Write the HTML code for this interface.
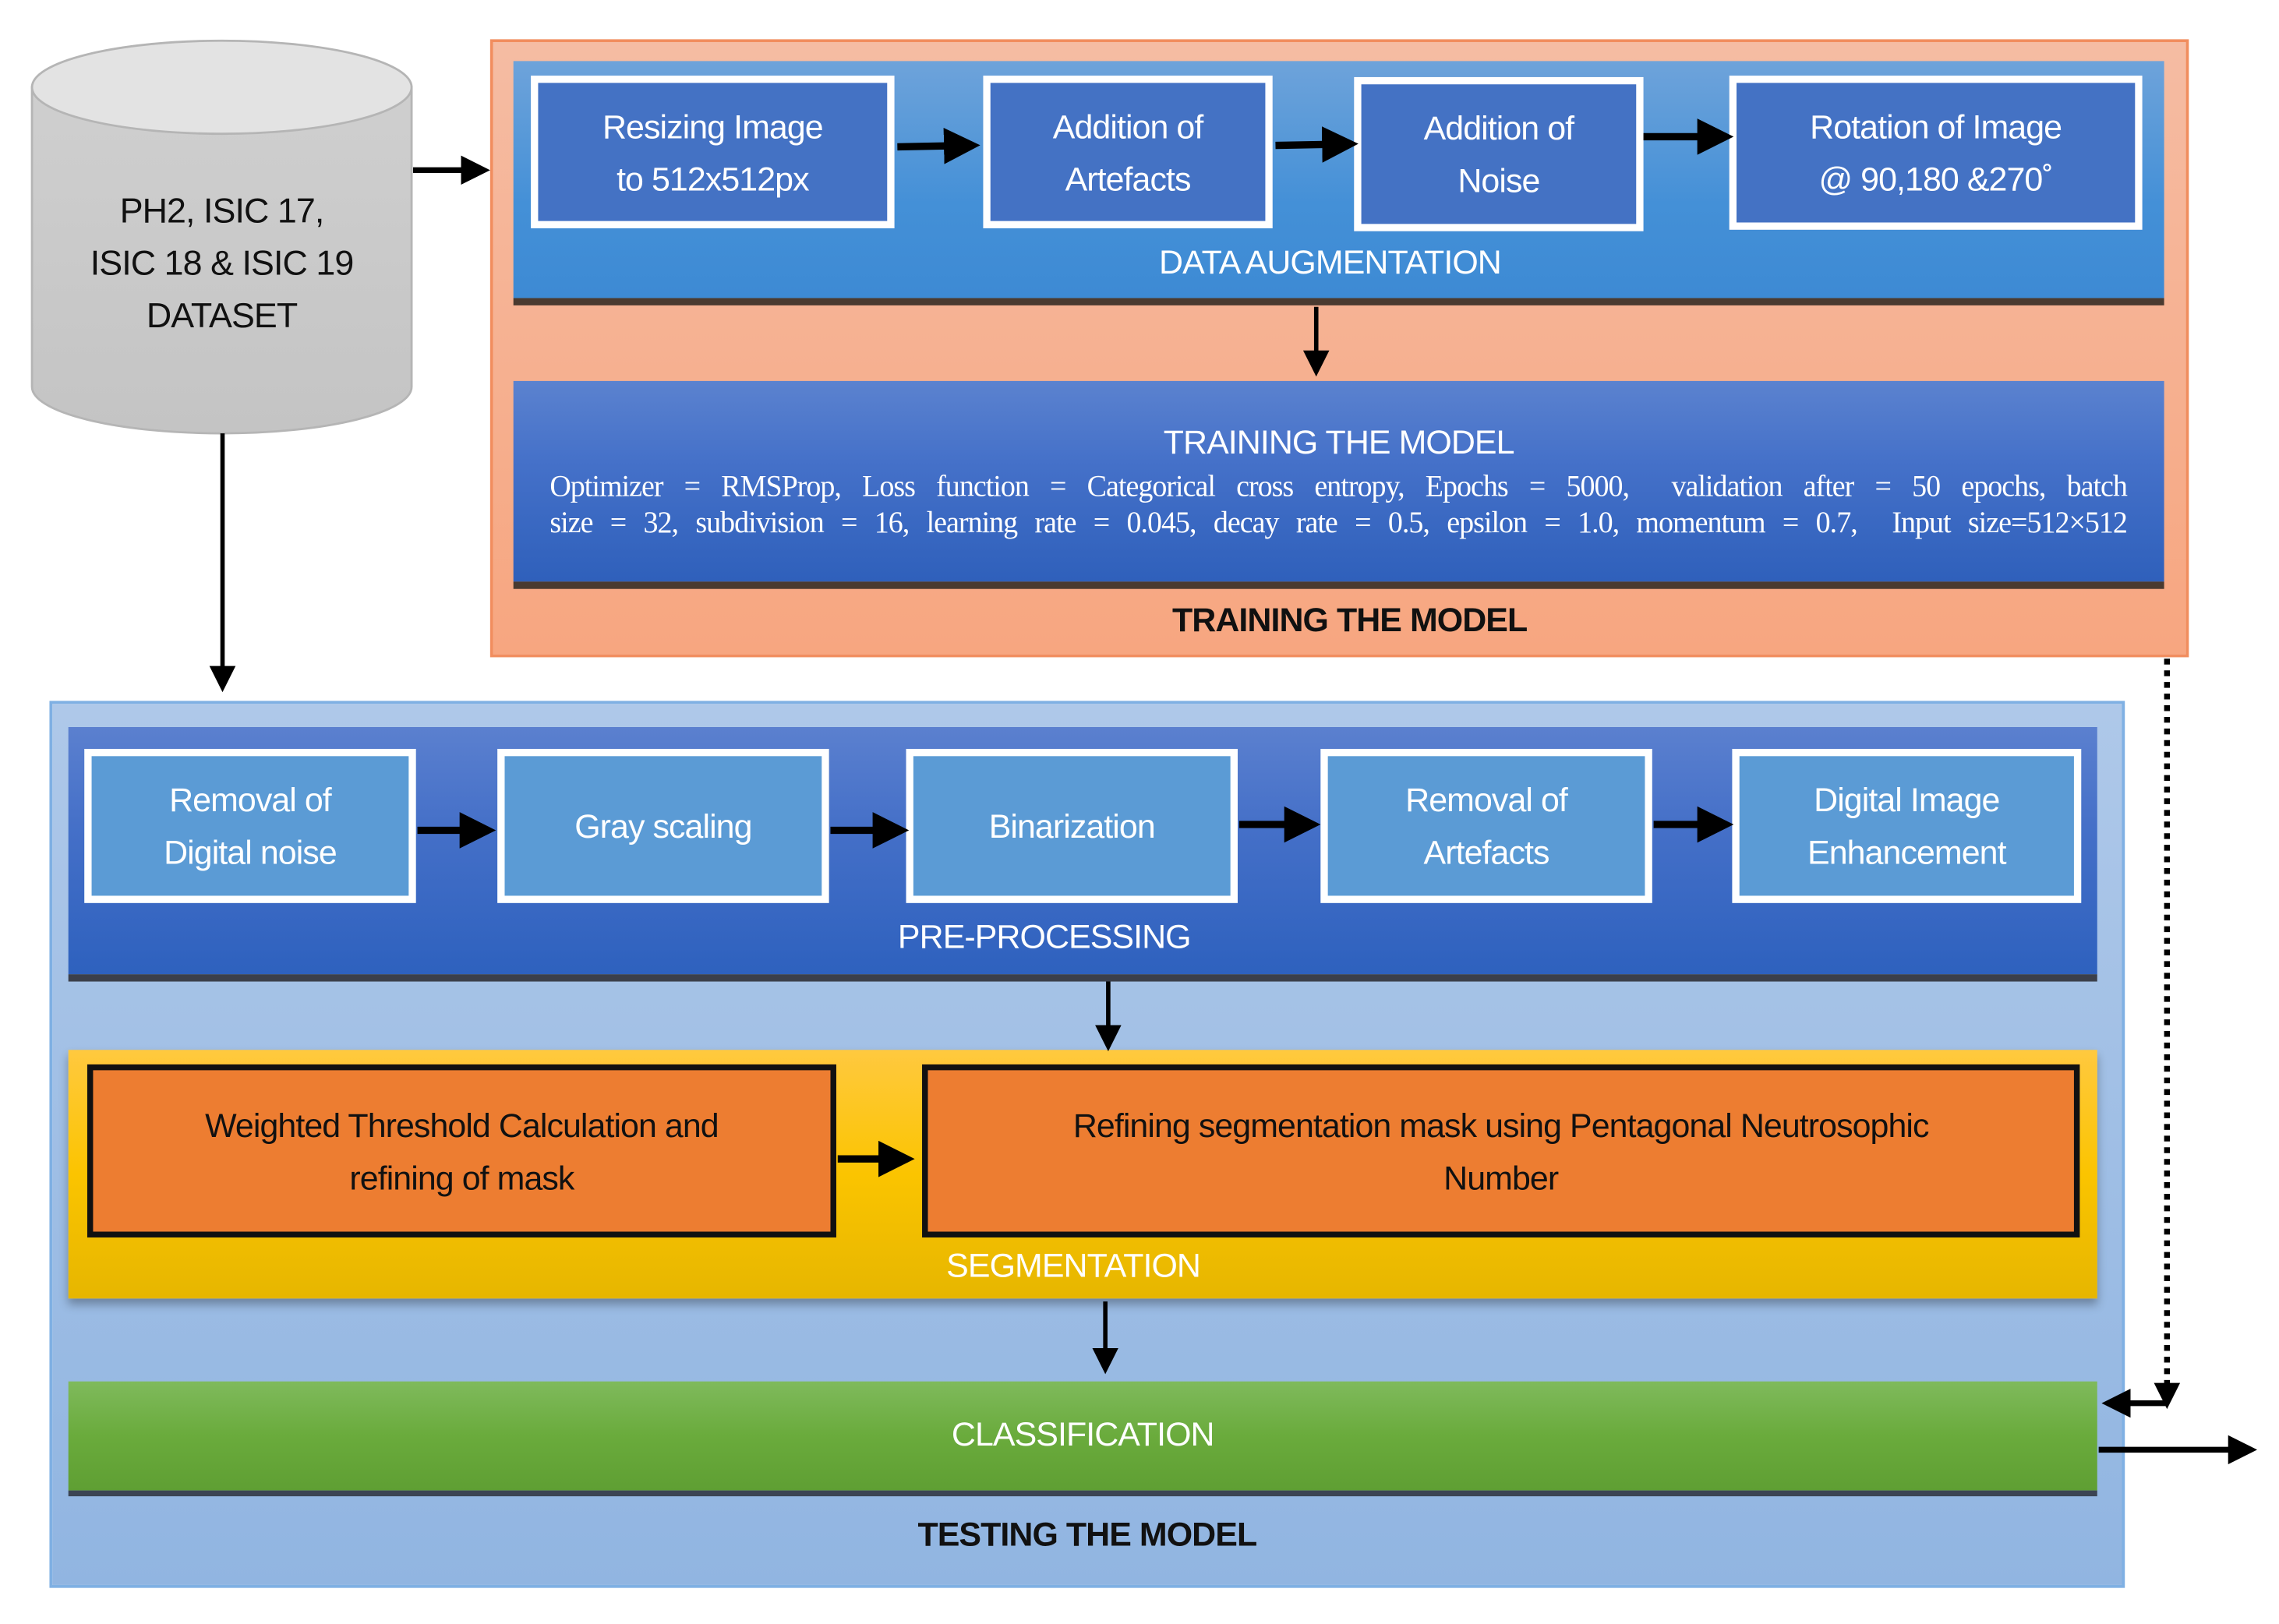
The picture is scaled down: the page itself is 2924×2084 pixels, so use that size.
<!DOCTYPE html>
<html><head><meta charset="utf-8">
<style>
html,body{margin:0;padding:0;background:#fff;}
#wrap{position:relative;width:2924px;height:2084px;overflow:hidden;background:#fff;}
#c{position:absolute;left:0;top:0;width:1568px;height:1117px;transform:scale(1.866,1.866);transform-origin:0 0;font-family:"Liberation Sans",sans-serif;}
.a{position:absolute;box-sizing:border-box;}
.wb{position:absolute;box-sizing:border-box;border:5px solid #fff;color:#fff;display:flex;align-items:center;justify-content:center;text-align:center;font-size:23px;line-height:36px;letter-spacing:-0.5px;}
.lbl{position:absolute;text-align:center;font-size:23px;letter-spacing:-0.5px;white-space:nowrap;}
</style></head><body>
<div id="wrap"><div id="c">
<svg class="a" style="left:0;top:0" width="1560" height="1112">
<defs>
<linearGradient id="cy" x1="0" x2="0" y1="0" y2="1"><stop offset="0" stop-color="#cfcfcf"/><stop offset="1" stop-color="#c4c4c4"/></linearGradient>
</defs>
<path d="M22,60 L22,266 A130.5,32 0 0 0 283,266 L283,60 Z" fill="url(#cy)" stroke="#b5b5b5" stroke-width="1.5"/>
<ellipse cx="152.5" cy="60" rx="130.5" ry="32" fill="#e3e3e3" stroke="#b5b5b5" stroke-width="1.5"/>
</svg>
<div class="lbl" style="left:22px;width:261px;top:128px;line-height:36px;color:#111;font-size:24px;">PH2, ISIC 17,<br>ISIC 18 &amp; ISIC 19<br>DATASET</div>

<div class="a" style="left:337px;top:27px;width:1168px;height:425px;background:linear-gradient(#f5bca3,#f7a680);border:2px solid #f18d5e;"></div>
<div class="a" style="left:353px;top:42px;width:1135px;height:168px;background:linear-gradient(#6ea3da,#4490d7 60%,#3d8ad4);border-bottom:5px solid #4a3a30;"></div>
<div class="wb" style="left:365px;top:52px;width:250px;height:105px;background:#4472c4;">Resizing Image<br>to 512x512px</div>
<div class="wb" style="left:676px;top:52px;width:199px;height:105px;background:#4472c4;">Addition of<br>Artefacts</div>
<div class="wb" style="left:931px;top:53px;width:199px;height:106px;background:#4472c4;">Addition of<br>Noise</div>
<div class="wb" style="left:1189px;top:52px;width:284px;height:106px;background:#4472c4;">Rotation of Image<br>@ 90,180 &amp;270&#730;</div>
<div class="lbl" style="left:353px;width:1123px;top:167px;color:#fff;">DATA AUGMENTATION</div>

<div class="a" style="left:353px;top:262px;width:1135px;height:143px;background:linear-gradient(#5b82cf,#4571c9 40%,#2f60bb);border-bottom:5px solid #4a3a30;"></div>
<div class="lbl" style="left:353px;width:1135px;top:291px;color:#fff;">TRAINING THE MODEL</div>
<div class="a" style="left:378px;top:322px;width:1118px;color:#fff;font-family:'Liberation Serif',serif;font-size:21px;line-height:25px;text-align:justify;text-align-last:justify;letter-spacing:-0.55px;transform:scaleX(0.97);transform-origin:0 0;">Optimizer = RMSProp, Loss function = Categorical cross entropy, Epochs = 5000,&nbsp; validation after = 50 epochs, batch<br>size = 32, subdivision = 16, learning rate = 0.045, decay rate = 0.5, epsilon = 1.0, momentum = 0.7,&nbsp; Input size=512×512</div>
<div class="lbl" style="left:337px;width:1182px;top:413px;color:#111;font-weight:bold;">TRAINING THE MODEL</div>

<div class="a" style="left:34px;top:482px;width:1427px;height:610px;background:linear-gradient(#aec8e9,#91b5e1);border:2px solid #7fb0e3;"></div>
<div class="a" style="left:47px;top:500px;width:1395px;height:175px;background:linear-gradient(#5b80cf,#4570c8 40%,#2e61be);border-bottom:5px solid #3b3f4a;"></div>
<div class="wb" style="left:58px;top:515px;width:228px;height:106px;background:#5b9bd5;">Removal of<br>Digital noise</div>
<div class="wb" style="left:342px;top:515px;width:228px;height:106px;background:#5b9bd5;">Gray scaling</div>
<div class="wb" style="left:623px;top:515px;width:228px;height:106px;background:#5b9bd5;">Binarization</div>
<div class="wb" style="left:908px;top:515px;width:228px;height:106px;background:#5b9bd5;">Removal of<br>Artefacts</div>
<div class="wb" style="left:1191px;top:515px;width:240px;height:106px;background:#5b9bd5;">Digital Image<br>Enhancement</div>
<div class="lbl" style="left:47px;width:1342px;top:631px;color:#fff;">PRE-PROCESSING</div>

<div class="a" style="left:47px;top:722px;width:1395px;height:171px;background:linear-gradient(#ffc93f,#fbc400 50%,#e6b600);box-shadow:0 4px 6px rgba(0,0,0,0.3);"></div>
<div class="a" style="left:60px;top:732px;width:515px;height:119px;background:#ed7d31;border:4px solid #111;display:flex;align-items:center;justify-content:center;text-align:center;font-size:23px;line-height:36px;color:#111;letter-spacing:-0.5px;">Weighted Threshold Calculation and<br>refining of mask</div>
<div class="a" style="left:634px;top:732px;width:796px;height:119px;background:#ed7d31;border:4px solid #111;display:flex;align-items:center;justify-content:center;text-align:center;font-size:23px;line-height:36px;color:#111;letter-spacing:-0.5px;">Refining segmentation mask using Pentagonal Neutrosophic<br>Number</div>
<div class="lbl" style="left:47px;width:1382px;top:857px;color:#fff;">SEGMENTATION</div>

<div class="a" style="left:47px;top:950px;width:1395px;height:79px;background:linear-gradient(#7fba5c,#6aab3c 50%,#5f9f33);border-bottom:4px solid #3b4453;"></div>
<div class="lbl" style="left:47px;width:1395px;top:973px;color:#fff;">CLASSIFICATION</div>
<div class="lbl" style="left:34px;width:1427px;top:1042px;color:#111;font-weight:bold;">TESTING THE MODEL</div>

<svg class="a" style="left:0;top:0" width="1568" height="1117">
<defs>
<marker id="ah" markerWidth="5" markerHeight="5" refX="4" refY="2.5" orient="auto" markerUnits="strokeWidth"><path d="M0,0 L5,2.5 L0,5 Z" fill="#000"/></marker>
<marker id="ah2" markerWidth="6" markerHeight="6" refX="5" refY="3" orient="auto" markerUnits="strokeWidth"><path d="M0,0 L6,3 L0,6 Z" fill="#000"/></marker>
</defs>
<g stroke="#000" fill="none">
<line x1="284" y1="117" x2="333" y2="117" stroke-width="4" marker-end="url(#ah)"/>
<line x1="153" y1="298" x2="153" y2="473" stroke-width="3" marker-end="url(#ah2)"/>
<line x1="617" y1="101" x2="669" y2="100" stroke-width="5" marker-end="url(#ah)"/>
<line x1="877" y1="100" x2="929" y2="99" stroke-width="5" marker-end="url(#ah)"/>
<line x1="1130" y1="94" x2="1187" y2="94" stroke-width="5" marker-end="url(#ah)"/>
<line x1="905" y1="211" x2="905" y2="256" stroke-width="3" marker-end="url(#ah2)"/>
<line x1="287" y1="571" x2="336" y2="571" stroke-width="5" marker-end="url(#ah)"/>
<line x1="571" y1="571" x2="620" y2="571" stroke-width="5" marker-end="url(#ah)"/>
<line x1="852" y1="567" x2="903" y2="567" stroke-width="5" marker-end="url(#ah)"/>
<line x1="1137" y1="567" x2="1187" y2="567" stroke-width="5" marker-end="url(#ah)"/>
<line x1="762" y1="675" x2="762" y2="720" stroke-width="3" marker-end="url(#ah2)"/>
<line x1="576" y1="797" x2="624" y2="797" stroke-width="5" marker-end="url(#ah)"/>
<line x1="760" y1="895" x2="760" y2="942" stroke-width="3" marker-end="url(#ah2)"/>
<line x1="1490" y1="453" x2="1490" y2="952" stroke-width="4" stroke-dasharray="4,4"/>
<line x1="1490" y1="952" x2="1490" y2="966" stroke-width="3" marker-end="url(#ah2)"/>
<line x1="1490" y1="965" x2="1449" y2="965" stroke-width="4" marker-end="url(#ah)"/>
<line x1="1443" y1="997" x2="1548" y2="997" stroke-width="4" marker-end="url(#ah)"/>
</g>
</svg>
</div></div>
</body></html>
